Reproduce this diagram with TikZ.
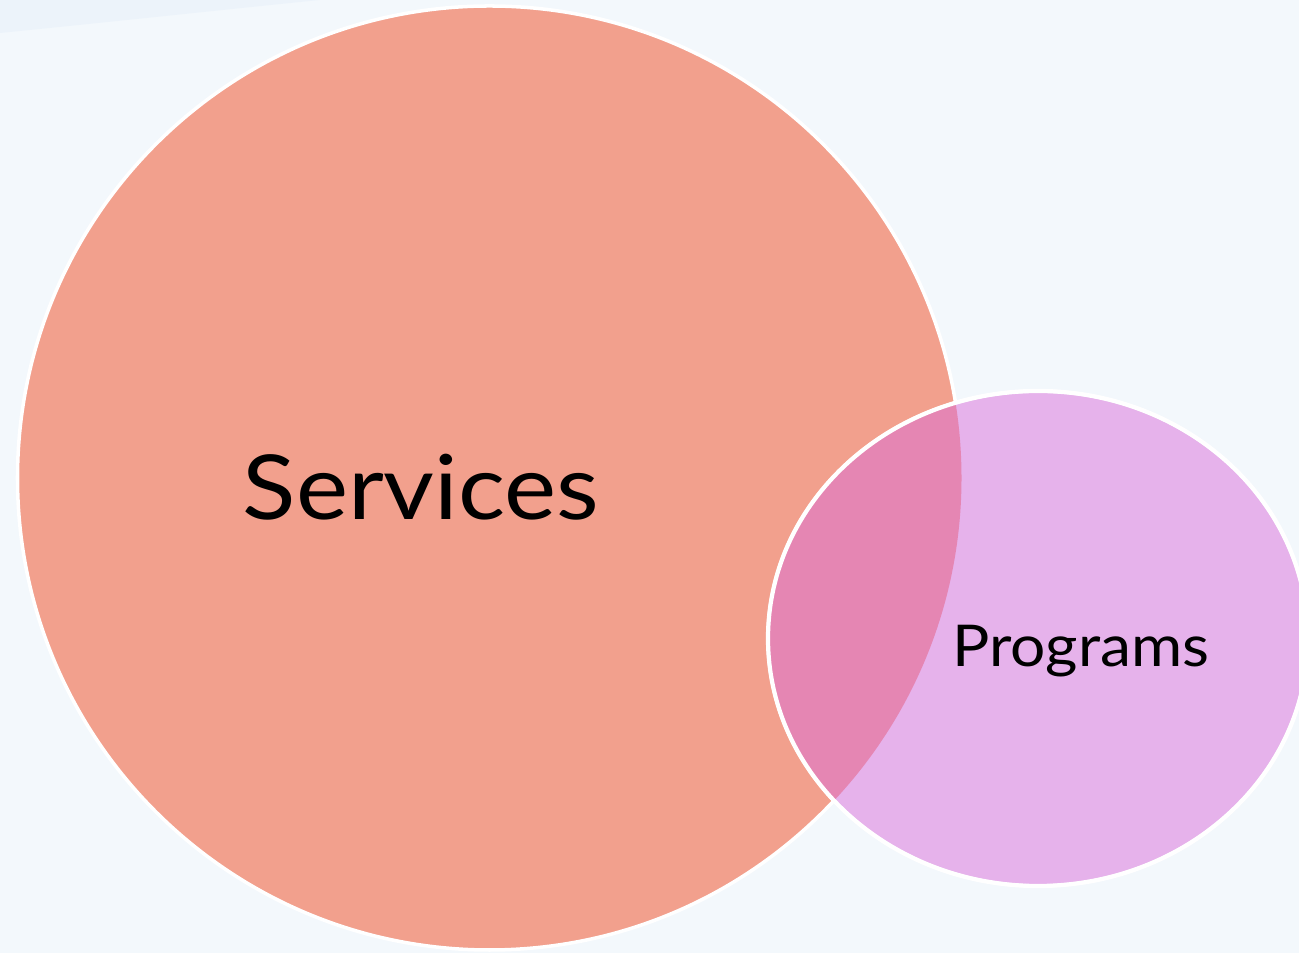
\documentclass[tikz,border=0pt]{standalone}
\usepackage{fontspec}
\setmainfont{Lato}
\usepackage{xcolor}
\usetikzlibrary{positioning}
\definecolor{bgblue}{HTML}{F3F8FC}
\definecolor{streak}{HTML}{E6EFFA}
\definecolor{salmon}{HTML}{F2A08D}
\definecolor{lilac}{HTML}{E6B2EB}
\definecolor{overlap}{HTML}{E586B3}

\begin{document}
\begin{tikzpicture}[
    setfill/.style={draw=white, line width=1pt},
    setlabel/.style={text=black, inner sep=0pt, anchor=base}
  ]
        \fill[bgblue] (0,0) rectangle (12.99,9.53);
        \useasboundingbox (0,0) rectangle (12.99,9.53);
        \fill[streak, opacity=0.5] (0,9.53) -- (0,9.2) .. controls (1.2,9.32) and (2.4,9.45) .. (3.2,9.53) -- cycle;
        % Sets
        \coordinate (svc) at (4.895,4.75);
        \coordinate (prg) at (10.38,3.145);
        \draw[setfill, fill=salmon] (svc) circle (4.72);
        \draw[setfill, fill=lilac] (prg) ellipse [x radius=2.70, y radius=2.475];
        \begin{scope}
            \clip (prg) ellipse [x radius=2.70, y radius=2.475];
            \fill[overlap] (svc) circle (4.72);
        \end{scope}
        \draw[white, line width=1.2pt] (prg) ellipse [x radius=2.70, y radius=2.475];
        % Labels
        \node[setlabel, xscale=1.1, font=\fontsize{25.5}{30}\selectfont] (svclabel) at (4.21,4.33) {Services};
        \node[setlabel, xscale=1.08, font=\fontsize{16.4}{20}\selectfont] (prglabel) at (10.81,2.86) {Programs};
\end{tikzpicture}
\end{document}
